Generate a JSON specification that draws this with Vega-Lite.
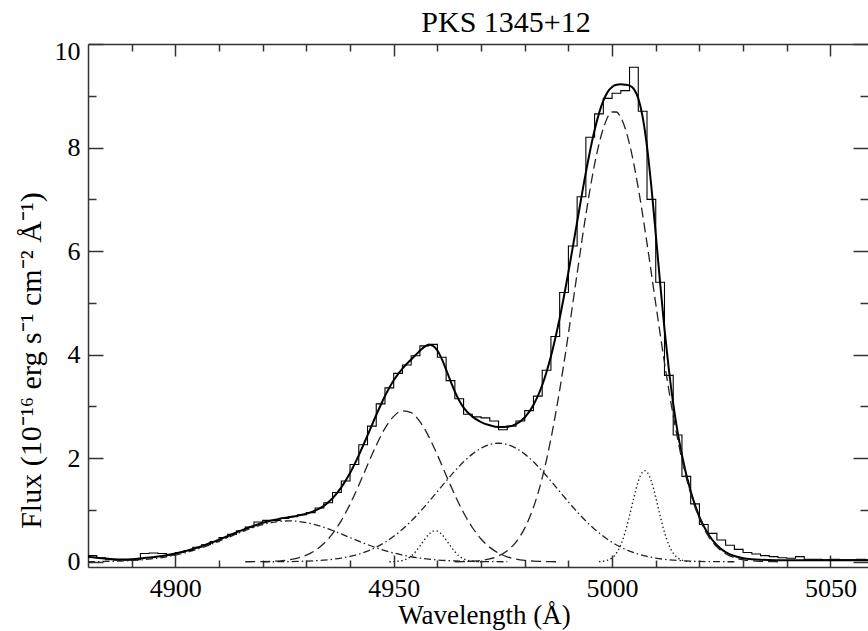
{
"$schema": "https://vega.github.io/schema/vega-lite/v6.json",
"width": 780, "height": 523,
"autosize": {"type": "none"},
"padding": {"left": 88, "top": 44, "right": 0, "bottom": 64},
"background": "white",
"config": {"view": {"stroke": null}, "font": "Liberation Serif",
 "style": {"guide-label": {"font": "Liberation Serif"}, "guide-title": {"font": "Liberation Serif"}, "group-title": {"font": "Liberation Serif"}},
 "axis": {"grid": false, "labelFont": "Liberation Serif", "titleFont": "Liberation Serif", "labelColor": "black", "titleColor": "black", "domainColor": "#333", "tickColor": "#333", "domainWidth": 1.5, "tickWidth": 1.5, "titleFontWeight": "normal"},
 "axisX": {"labelFont": "Liberation Serif"},
 "axisBottom": {"labelFont": "Liberation Serif"},
 "title": {"font": "Liberation Serif", "fontSize": 30, "fontWeight": "normal", "color": "black"}},
"title": {"text": "PKS 1345+12", "font": "Liberation Serif", "fontSize": 30, "fontWeight": "normal", "color": "black", "anchor": "middle", "dx": 28, "dy": 22, "offset": -2, "baseline": "alphabetic"},
"datasets": {
"obs": [
{"x":4880,"y":0.12},{"x":4882,"y":0.08},{"x":4884,"y":0.04},{"x":4886,"y":0.03},{"x":4888,"y":0.03},{"x":4890,"y":0.04},{"x":4892,"y":0.16},{"x":4894,"y":0.17},{"x":4896,"y":0.16},{"x":4898,"y":0.13},
{"x":4900,"y":0.18},{"x":4902,"y":0.22},{"x":4904,"y":0.28},{"x":4906,"y":0.33},{"x":4908,"y":0.39},{"x":4910,"y":0.47},{"x":4912,"y":0.53},{"x":4914,"y":0.60},{"x":4916,"y":0.67},{"x":4918,"y":0.77},
{"x":4920,"y":0.80},{"x":4922,"y":0.80},{"x":4924,"y":0.84},{"x":4926,"y":0.87},{"x":4928,"y":0.91},{"x":4930,"y":0.95},{"x":4932,"y":1.04},{"x":4934,"y":1.14},{"x":4936,"y":1.34},{"x":4938,"y":1.56},
{"x":4940,"y":1.88},{"x":4942,"y":2.26},{"x":4944,"y":2.62},{"x":4946,"y":3.05},{"x":4948,"y":3.36},{"x":4950,"y":3.64},{"x":4952,"y":3.80},{"x":4954,"y":3.98},{"x":4956,"y":4.17},{"x":4958,"y":4.20},
{"x":4960,"y":3.95},{"x":4962,"y":3.50},{"x":4964,"y":3.15},{"x":4966,"y":2.85},{"x":4968,"y":2.80},{"x":4970,"y":2.78},{"x":4972,"y":2.72},{"x":4974,"y":2.55},{"x":4976,"y":2.62},{"x":4978,"y":2.72},
{"x":4980,"y":2.92},{"x":4982,"y":3.20},{"x":4984,"y":3.70},{"x":4986,"y":4.35},{"x":4988,"y":5.20},{"x":4990,"y":6.10},{"x":4992,"y":7.05},{"x":4994,"y":8.20},{"x":4996,"y":8.65},{"x":4998,"y":8.95},
{"x":5000,"y":9.05},{"x":5002,"y":9.10},{"x":5004,"y":9.55},{"x":5006,"y":8.70},{"x":5008,"y":7.00},{"x":5010,"y":5.40},{"x":5012,"y":3.60},{"x":5014,"y":2.45},{"x":5016,"y":1.65},{"x":5018,"y":1.12},
{"x":5020,"y":0.72},{"x":5022,"y":0.55},{"x":5024,"y":0.42},{"x":5026,"y":0.32},{"x":5028,"y":0.24},{"x":5030,"y":0.18},{"x":5032,"y":0.15},{"x":5034,"y":0.12},{"x":5036,"y":0.10},{"x":5038,"y":0.08},
{"x":5040,"y":0.07},{"x":5042,"y":0.10},{"x":5044,"y":0.05},{"x":5046,"y":0.05},{"x":5048,"y":0.04},{"x":5050,"y":0.05},{"x":5052,"y":0.04},{"x":5054,"y":0.04},{"x":5056,"y":0.05},{"x":5058,"y":0.04},{"x":5060,"y":0.04}
],
"fit": [
{"x":4880,"y":0.10},{"x":4882,"y":0.08},{"x":4884,"y":0.063},{"x":4886,"y":0.05},{"x":4888,"y":0.045},{"x":4890,"y":0.05},{"x":4892,"y":0.064},{"x":4894,"y":0.082},{"x":4896,"y":0.102},{"x":4898,"y":0.128},
{"x":4900,"y":0.16},{"x":4902,"y":0.2},{"x":4904,"y":0.247},{"x":4906,"y":0.302},{"x":4908,"y":0.363},{"x":4910,"y":0.429},{"x":4912,"y":0.498},{"x":4914,"y":0.568},{"x":4916,"y":0.635},{"x":4918,"y":0.697},
{"x":4920,"y":0.753},{"x":4922,"y":0.798},{"x":4924,"y":0.834},{"x":4926,"y":0.863},{"x":4928,"y":0.892},{"x":4930,"y":0.928},{"x":4932,"y":0.987},{"x":4934,"y":1.081},{"x":4936,"y":1.228},{"x":4938,"y":1.437},
{"x":4940,"y":1.716},{"x":4942,"y":2.057},{"x":4944,"y":2.44},{"x":4946,"y":2.835},{"x":4948,"y":3.201},{"x":4950,"y":3.506},{"x":4952,"y":3.732},{"x":4954,"y":3.908},{"x":4955,"y":3.993},{"x":4956,"y":4.078},
{"x":4957,"y":4.152},{"x":4958,"y":4.192},{"x":4959,"y":4.172},{"x":4960,"y":4.08},{"x":4961,"y":3.918},{"x":4962,"y":3.712},{"x":4963,"y":3.492},{"x":4964,"y":3.287},{"x":4966,"y":2.977},{"x":4968,"y":2.804},
{"x":4970,"y":2.699},{"x":4972,"y":2.636},{"x":4974,"y":2.602},{"x":4976,"y":2.607},{"x":4978,"y":2.659},{"x":4980,"y":2.787},{"x":4982,"y":3.027},{"x":4984,"y":3.41},{"x":4986,"y":3.969},{"x":4988,"y":4.704},
{"x":4990,"y":5.593},{"x":4992,"y":6.565},{"x":4994,"y":7.52},{"x":4996,"y":8.338},{"x":4998,"y":8.905},{"x":4999,"y":9.075},{"x":5000,"y":9.171},{"x":5001,"y":9.213},{"x":5002,"y":9.221},{"x":5003,"y":9.214},
{"x":5004,"y":9.196},{"x":5005,"y":9.129},{"x":5006,"y":8.95},{"x":5007,"y":8.594},{"x":5008,"y":8.019},{"x":5009,"y":7.24},{"x":5010,"y":6.33},{"x":5011,"y":5.386},{"x":5012,"y":4.495},{"x":5013,"y":3.714},
{"x":5014,"y":3.055},{"x":5015,"y":2.509},{"x":5016,"y":2.058},{"x":5018,"y":1.361},{"x":5020,"y":0.87},{"x":5022,"y":0.537},{"x":5024,"y":0.321},{"x":5026,"y":0.187},{"x":5028,"y":0.112},{"x":5030,"y":0.07},
{"x":5032,"y":0.049},{"x":5034,"y":0.039},{"x":5036,"y":0.034},{"x":5038,"y":0.031},{"x":5040,"y":0.03},{"x":5050,"y":0.03},{"x":5060,"y":0.03}
],
"comp": [
{"c":"A","x":4916,"y":0.001},{"c":"A","x":4918,"y":0.002},{"c":"A","x":4920,"y":0.004},{"c":"A","x":4922,"y":0.009},{"c":"A","x":4924,"y":0.019},{"c":"A","x":4926,"y":0.038},{"c":"A","x":4928,"y":0.072},{"c":"A","x":4930,"y":0.128},{"c":"A","x":4932,"y":0.218},{"c":"A","x":4934,"y":0.353},{"c":"A","x":4936,"y":0.544},{"c":"A","x":4938,"y":0.797},{"c":"A","x":4940,"y":1.113},{"c":"A","x":4942,"y":1.479},{"c":"A","x":4944,"y":1.869},{"c":"A","x":4946,"y":2.25},{"c":"A","x":4948,"y":2.577},{"c":"A","x":4950,"y":2.809},{"c":"A","x":4952,"y":2.916},{"c":"A","x":4954,"y":2.88},{"c":"A","x":4956,"y":2.707},{"c":"A","x":4958,"y":2.423},{"c":"A","x":4960,"y":2.064},{"c":"A","x":4962,"y":1.673},{"c":"A","x":4964,"y":1.291},{"c":"A","x":4966,"y":0.948},{"c":"A","x":4968,"y":0.663},{"c":"A","x":4970,"y":0.441},{"c":"A","x":4972,"y":0.279},{"c":"A","x":4974,"y":0.168},{"c":"A","x":4976,"y":0.097},{"c":"A","x":4978,"y":0.053},{"c":"A","x":4980,"y":0.027},{"c":"A","x":4982,"y":0.014},{"c":"A","x":4984,"y":0.006},{"c":"A","x":4986,"y":0.003},{"c":"A","x":4988,"y":0.001},
{"c":"B","x":4964,"y":0.001},{"c":"B","x":4966,"y":0.004},{"c":"B","x":4968,"y":0.013},{"c":"B","x":4970,"y":0.028},{"c":"B","x":4972,"y":0.058},{"c":"B","x":4974,"y":0.114},{"c":"B","x":4976,"y":0.214},{"c":"B","x":4978,"y":0.382},{"c":"B","x":4980,"y":0.65},{"c":"B","x":4982,"y":1.052},{"c":"B","x":4984,"y":1.62},{"c":"B","x":4986,"y":2.376},{"c":"B","x":4988,"y":3.316},{"c":"B","x":4990,"y":4.406},{"c":"B","x":4992,"y":5.57},{"c":"B","x":4994,"y":6.702},{"c":"B","x":4996,"y":7.678},{"c":"B","x":4998,"y":8.37},{"c":"B","x":5000,"y":8.687},{"c":"B","x":5001,"y":8.687},{"c":"B","x":5002,"y":8.58},{"c":"B","x":5004,"y":8.067},{"c":"B","x":5006,"y":7.218},{"c":"B","x":5008,"y":6.148},{"c":"B","x":5010,"y":4.984},{"c":"B","x":5012,"y":3.845},{"c":"B","x":5014,"y":2.825},{"c":"B","x":5016,"y":1.975},{"c":"B","x":5018,"y":1.314},{"c":"B","x":5020,"y":0.832},{"c":"B","x":5022,"y":0.502},{"c":"B","x":5024,"y":0.288},{"c":"B","x":5026,"y":0.157},{"c":"B","x":5028,"y":0.082},{"c":"B","x":5030,"y":0.04},{"c":"B","x":5032,"y":0.019},{"c":"B","x":5034,"y":0.009},{"c":"B","x":5036,"y":0.004},{"c":"B","x":5038,"y":0.001},
{"c":"C","x":4920,"y":0.001},{"c":"C","x":4924,"y":0.003},{"c":"C","x":4928,"y":0.008},{"c":"C","x":4930,"y":0.013},{"c":"C","x":4932,"y":0.021},{"c":"C","x":4934,"y":0.032},{"c":"C","x":4936,"y":0.049},{"c":"C","x":4938,"y":0.072},{"c":"C","x":4940,"y":0.105},{"c":"C","x":4942,"y":0.149},{"c":"C","x":4944,"y":0.208},{"c":"C","x":4946,"y":0.283},{"c":"C","x":4948,"y":0.377},{"c":"C","x":4950,"y":0.493},{"c":"C","x":4952,"y":0.63},{"c":"C","x":4954,"y":0.788},{"c":"C","x":4956,"y":0.965},{"c":"C","x":4958,"y":1.157},{"c":"C","x":4960,"y":1.358},{"c":"C","x":4962,"y":1.56},{"c":"C","x":4964,"y":1.754},{"c":"C","x":4966,"y":1.931},{"c":"C","x":4968,"y":2.08},{"c":"C","x":4970,"y":2.194},{"c":"C","x":4972,"y":2.266},{"c":"C","x":4974,"y":2.29},{"c":"C","x":4976,"y":2.266},{"c":"C","x":4978,"y":2.194},{"c":"C","x":4980,"y":2.08},{"c":"C","x":4982,"y":1.931},{"c":"C","x":4984,"y":1.754},{"c":"C","x":4986,"y":1.56},{"c":"C","x":4988,"y":1.358},{"c":"C","x":4990,"y":1.157},{"c":"C","x":4992,"y":0.965},{"c":"C","x":4994,"y":0.788},{"c":"C","x":4996,"y":0.63},{"c":"C","x":4998,"y":0.493},{"c":"C","x":5000,"y":0.377},{"c":"C","x":5002,"y":0.283},{"c":"C","x":5004,"y":0.208},{"c":"C","x":5006,"y":0.149},{"c":"C","x":5008,"y":0.105},{"c":"C","x":5010,"y":0.072},{"c":"C","x":5012,"y":0.049},{"c":"C","x":5014,"y":0.032},{"c":"C","x":5016,"y":0.021},{"c":"C","x":5018,"y":0.013},{"c":"C","x":5020,"y":0.008},{"c":"C","x":5024,"y":0.003},{"c":"C","x":5028,"y":0.001},
{"c":"D","x":4880,"y":0.003},{"c":"D","x":4882,"y":0.005},{"c":"D","x":4884,"y":0.007},{"c":"D","x":4886,"y":0.011},{"c":"D","x":4888,"y":0.017},{"c":"D","x":4890,"y":0.025},{"c":"D","x":4892,"y":0.036},{"c":"D","x":4894,"y":0.052},{"c":"D","x":4896,"y":0.072},{"c":"D","x":4898,"y":0.098},{"c":"D","x":4900,"y":0.13},{"c":"D","x":4902,"y":0.17},{"c":"D","x":4904,"y":0.217},{"c":"D","x":4906,"y":0.272},{"c":"D","x":4908,"y":0.333},{"c":"D","x":4910,"y":0.399},{"c":"D","x":4912,"y":0.468},{"c":"D","x":4914,"y":0.538},{"c":"D","x":4916,"y":0.605},{"c":"D","x":4918,"y":0.666},{"c":"D","x":4920,"y":0.718},{"c":"D","x":4922,"y":0.757},{"c":"D","x":4924,"y":0.782},{"c":"D","x":4926,"y":0.79},{"c":"D","x":4928,"y":0.782},{"c":"D","x":4930,"y":0.757},{"c":"D","x":4932,"y":0.718},{"c":"D","x":4934,"y":0.666},{"c":"D","x":4936,"y":0.605},{"c":"D","x":4938,"y":0.538},{"c":"D","x":4940,"y":0.468},{"c":"D","x":4942,"y":0.399},{"c":"D","x":4944,"y":0.333},{"c":"D","x":4946,"y":0.272},{"c":"D","x":4948,"y":0.217},{"c":"D","x":4950,"y":0.17},{"c":"D","x":4952,"y":0.13},{"c":"D","x":4954,"y":0.098},{"c":"D","x":4956,"y":0.072},{"c":"D","x":4958,"y":0.052},{"c":"D","x":4960,"y":0.036},{"c":"D","x":4962,"y":0.025},{"c":"D","x":4964,"y":0.017},{"c":"D","x":4966,"y":0.011},{"c":"D","x":4968,"y":0.007},{"c":"D","x":4970,"y":0.005},{"c":"D","x":4972,"y":0.003},{"c":"D","x":4976,"y":0.001},
{"c":"E","x":4949,"y":0.001},{"c":"E","x":4950,"y":0.004},{"c":"E","x":4951,"y":0.011},{"c":"E","x":4952,"y":0.026},{"c":"E","x":4953,"y":0.057},{"c":"E","x":4954,"y":0.112},{"c":"E","x":4955,"y":0.195},{"c":"E","x":4956,"y":0.304},{"c":"E","x":4957,"y":0.424},{"c":"E","x":4958,"y":0.53},{"c":"E","x":4959,"y":0.592},{"c":"E","x":4959.5,"y":0.6},{"c":"E","x":4960,"y":0.592},{"c":"E","x":4961,"y":0.53},{"c":"E","x":4962,"y":0.424},{"c":"E","x":4963,"y":0.304},{"c":"E","x":4964,"y":0.195},{"c":"E","x":4965,"y":0.112},{"c":"E","x":4966,"y":0.057},{"c":"E","x":4967,"y":0.026},{"c":"E","x":4968,"y":0.011},{"c":"E","x":4969,"y":0.004},{"c":"E","x":4970,"y":0.001},
{"c":"F","x":4997,"y":0.004},{"c":"F","x":4998,"y":0.012},{"c":"F","x":4999,"y":0.032},{"c":"F","x":5000,"y":0.077},{"c":"F","x":5001,"y":0.168},{"c":"F","x":5002,"y":0.328},{"c":"F","x":5003,"y":0.571},{"c":"F","x":5004,"y":0.891},{"c":"F","x":5005,"y":1.244},{"c":"F","x":5006,"y":1.553},{"c":"F","x":5007,"y":1.736},{"c":"F","x":5007.5,"y":1.76},{"c":"F","x":5008,"y":1.736},{"c":"F","x":5009,"y":1.553},{"c":"F","x":5010,"y":1.244},{"c":"F","x":5011,"y":0.891},{"c":"F","x":5012,"y":0.571},{"c":"F","x":5013,"y":0.328},{"c":"F","x":5014,"y":0.168},{"c":"F","x":5015,"y":0.077},{"c":"F","x":5016,"y":0.032},{"c":"F","x":5017,"y":0.012},{"c":"F","x":5018,"y":0.004}
]
},
"resolve": {"scale": {"x": "shared", "y": "shared"}, "axis": {"x": "independent", "y": "independent"}},
"layer": [
{"data": {"name": "obs"},
 "mark": {"type": "line", "interpolate": "step-after", "color": "black", "strokeWidth": 1.1, "clip": true},
 "encoding": {
  "x": {"field": "x", "type": "quantitative", "scale": {"domain": [4880, 5058.6], "nice": false, "zero": false},
   "axis": {"orient": "bottom", "values": [4900, 4950, 5000, 5050], "format": "d", "ticks": false, "domain": true, "labelFont": "Liberation Serif", "labelFontSize": 26, "labelPadding": 29, "labelBaseline": "alphabetic", "labelFlush": false, "labelOverlap": false,
    "title": "Wavelength (Å)", "titleFont": "Liberation Serif", "titleFontSize": 27, "titleX": 396, "titleY": 56, "titleBaseline": "alphabetic", "titleAlign": "center"}},
  "y": {"field": "y", "type": "quantitative", "scale": {"domain": [-0.1, 10], "nice": false, "zero": false},
   "axis": {"orient": "left", "values": [0, 2, 4, 6, 8, 10], "format": "d", "ticks": false, "domain": true, "labelFont": "Liberation Serif", "labelFontSize": 26, "labelPadding": 8, "labelBaseline": "middle", "labelFlush": false, "labelOverlap": false,
    "labelOffset": {"condition": {"test": "datum.value == 10", "value": 7}, "value": 0},
    "title": "Flux (10⁻¹⁶ erg s⁻¹ cm⁻² Å⁻¹)", "titleFont": "Liberation Serif", "titleFontSize": 30, "titleX": -57, "titleY": 316, "titleAngle": -90, "titleAlign": "center", "titleBaseline": "middle"}}
 }},
{"data": {"name": "fit"},
 "mark": {"type": "line", "interpolate": "monotone", "color": "black", "strokeWidth": 2, "clip": true},
 "encoding": {
  "x": {"field": "x", "type": "quantitative", "scale": {"domain": [4880, 5058.6], "nice": false, "zero": false},
   "axis": {"orient": "bottom", "values": [4900, 4950, 5000, 5050], "labels": false, "domain": false, "ticks": true, "tickSize": -12, "title": null}},
  "y": {"field": "y", "type": "quantitative", "scale": {"domain": [-0.1, 10], "nice": false, "zero": false},
   "axis": {"orient": "left", "values": [0, 2, 4, 6, 8, 10], "labels": false, "domain": false, "ticks": true, "tickSize": -15, "title": null}}
 }},
{"data": {"name": "comp"},
 "transform": [{"filter": {"field": "c", "oneOf": ["A", "B"]}}],
 "mark": {"type": "line", "interpolate": "monotone", "color": "#222", "strokeWidth": 1.3, "strokeDash": [10, 5], "clip": true},
 "encoding": {
  "detail": {"field": "c"},
  "x": {"field": "x", "type": "quantitative", "scale": {"domain": [4880, 5058.6], "nice": false, "zero": false},
   "axis": {"orient": "bottom", "values": [4890, 4910, 4920, 4930, 4940, 4960, 4970, 4980, 4990, 5010, 5020, 5030, 5040], "labels": false, "domain": false, "ticks": true, "tickSize": -7, "title": null}},
  "y": {"field": "y", "type": "quantitative", "scale": {"domain": [-0.1, 10], "nice": false, "zero": false},
   "axis": {"orient": "left", "values": [1, 3, 5, 7, 9], "labels": false, "domain": false, "ticks": true, "tickSize": -8, "title": null}}
 }},
{"data": {"name": "comp"},
 "transform": [{"filter": {"field": "c", "oneOf": ["C", "D"]}}],
 "mark": {"type": "line", "interpolate": "monotone", "color": "#222", "strokeWidth": 1.3, "strokeDash": [7, 3, 1.5, 3], "clip": true},
 "encoding": {
  "detail": {"field": "c"},
  "x": {"field": "x", "type": "quantitative", "scale": {"domain": [4880, 5058.6], "nice": false, "zero": false},
   "axis": {"orient": "top", "values": [4900, 4950, 5000, 5050], "labels": false, "domain": true, "ticks": true, "tickSize": -12, "title": null}},
  "y": {"field": "y", "type": "quantitative", "scale": {"domain": [-0.1, 10], "nice": false, "zero": false},
   "axis": {"orient": "right", "values": [0, 2, 4, 6, 8, 10], "labels": false, "domain": false, "ticks": true, "tickSize": -15, "title": null}}
 }},
{"data": {"name": "comp"},
 "transform": [{"filter": {"field": "c", "oneOf": ["E", "F"]}}],
 "mark": {"type": "line", "interpolate": "monotone", "color": "#222", "strokeWidth": 1.4, "strokeDash": [1.4, 2.6], "clip": true},
 "encoding": {
  "detail": {"field": "c"},
  "x": {"field": "x", "type": "quantitative", "scale": {"domain": [4880, 5058.6], "nice": false, "zero": false},
   "axis": {"orient": "top", "values": [4890, 4910, 4920, 4930, 4940, 4960, 4970, 4980, 4990, 5010, 5020, 5030, 5040], "labels": false, "domain": false, "ticks": true, "tickSize": -7, "title": null}},
  "y": {"field": "y", "type": "quantitative", "scale": {"domain": [-0.1, 10], "nice": false, "zero": false},
   "axis": {"orient": "right", "values": [1, 3, 5, 7, 9], "labels": false, "domain": false, "ticks": true, "tickSize": -8, "title": null}}
 }},
{"mark": {"type": "rule", "color": "#222", "strokeWidth": 1.2, "strokeDash": [6, 2.5, 1.5, 2.5]},
 "encoding": {"y": {"datum": 0, "type": "quantitative", "axis": null}}}
]
}
